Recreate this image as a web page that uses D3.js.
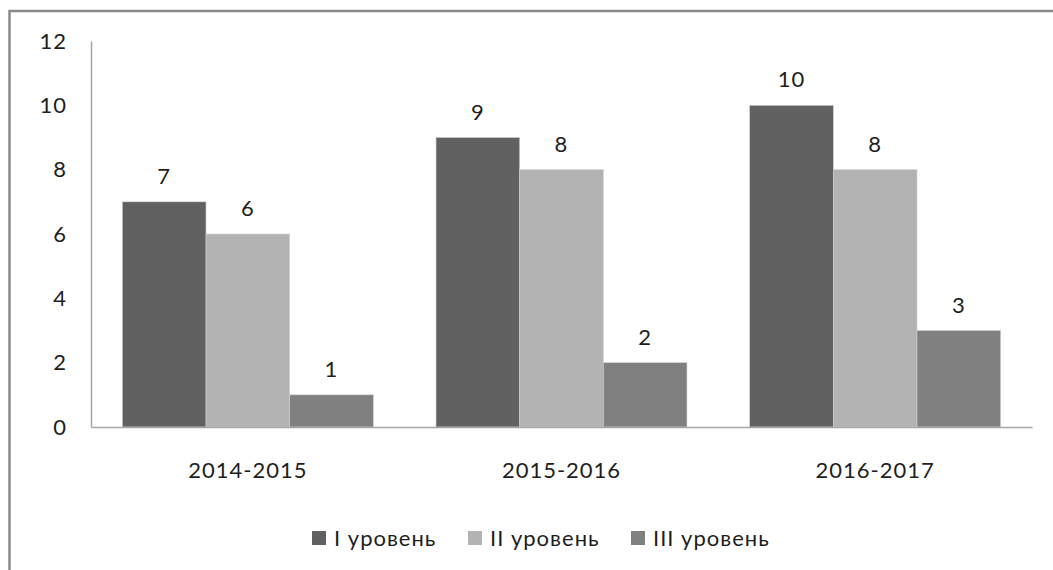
<!DOCTYPE html>
<html><head><meta charset="utf-8">
<script src="https://cdn.jsdelivr.net/npm/d3@7"></script>
<style>body{margin:0;background:#fff}svg{display:block}text{font-family:Lato,"Open Sans",sans-serif;fill:#1e1e1e;letter-spacing:1px}</style>
</head><body><svg id="c" width="1053" height="570"></svg>
<script>
const categories = ["2014-2015", "2015-2016", "2016-2017"];
const seriesNames = ["I уровень", "II уровень", "III уровень"];
const level1 = [7, 9, 10];
const level2 = [6, 8, 8];
const level3 = [1, 2, 3];
const yTicks = [0, 2, 4, 6, 8, 10, 12];
const colors = ["#616161", "#b3b3b3", "#808080"];

const series = [level1, level2, level3];
const svg = d3.select("#c");
const W = 1053, H = 570;
const m = {left: 91, right: 1032, top: 41, bottom: 427};
const FS = "22px";

// frame
svg.append("rect").attr("x", 9.5).attr("y", 11).attr("width", W + 20).attr("height", H + 20)
  .attr("fill", "none").attr("stroke", "#8a8a8a").attr("stroke-width", 2.5);

const x0 = d3.scaleBand().domain(categories).range([m.left, m.right]).paddingInner(0.2).paddingOuter(0.1);
const x1 = d3.scaleBand().domain(d3.range(series.length)).range([0, x0.bandwidth()]);
const y = d3.scaleLinear().domain([0, 12]).range([m.bottom, m.top]);

// y axis
const ya = svg.append("g").attr("transform", `translate(${m.left},0)`)
  .call(d3.axisLeft(y).tickValues(yTicks).tickSize(0).tickPadding(24));
ya.select(".domain").attr("stroke", "#a6a6a6").attr("stroke-width", 1.5);
ya.selectAll("text").style("font-size", FS).attr("fill", "#1e1e1e").style("font-family", "Lato");

// bars
const groups = svg.append("g").selectAll("g").data(categories).join("g")
  .attr("transform", d => `translate(${x0(d)},0)`);
groups.each(function(cat, ci) {
  const g = d3.select(this);
  series.forEach((s, si) => {
    g.append("rect").attr("x", x1(si)).attr("width", x1.bandwidth())
      .attr("y", y(s[ci])).attr("height", y(0) - y(s[ci]))
      .attr("fill", colors[si]).attr("stroke", "#d0d0d0").attr("stroke-width", 0.6);
    g.append("text").attr("x", x1(si) + x1.bandwidth() / 2).attr("y", y(s[ci]) - 18)
      .attr("text-anchor", "middle").style("font-size", FS).text(s[ci]);
  });
});

// x axis
const xa = svg.append("g").attr("transform", `translate(0,${m.bottom})`)
  .call(d3.axisBottom(x0).tickSize(0).tickPadding(35));
xa.select(".domain").attr("stroke", "#a6a6a6").attr("stroke-width", 1.5);
xa.selectAll("text").style("font-size", FS).attr("fill", "#1e1e1e").style("font-family", "Lato");

// legend
const legendX = [312, 468, 631];
const lg = svg.append("g");
seriesNames.forEach((n, i) => {
  lg.append("rect").attr("x", legendX[i]).attr("y", 531).attr("width", 14).attr("height", 14).attr("fill", colors[i]);
  lg.append("text").attr("x", legendX[i] + 22).attr("y", 546).style("font-size", FS).text(n);
});
</script></body></html>
